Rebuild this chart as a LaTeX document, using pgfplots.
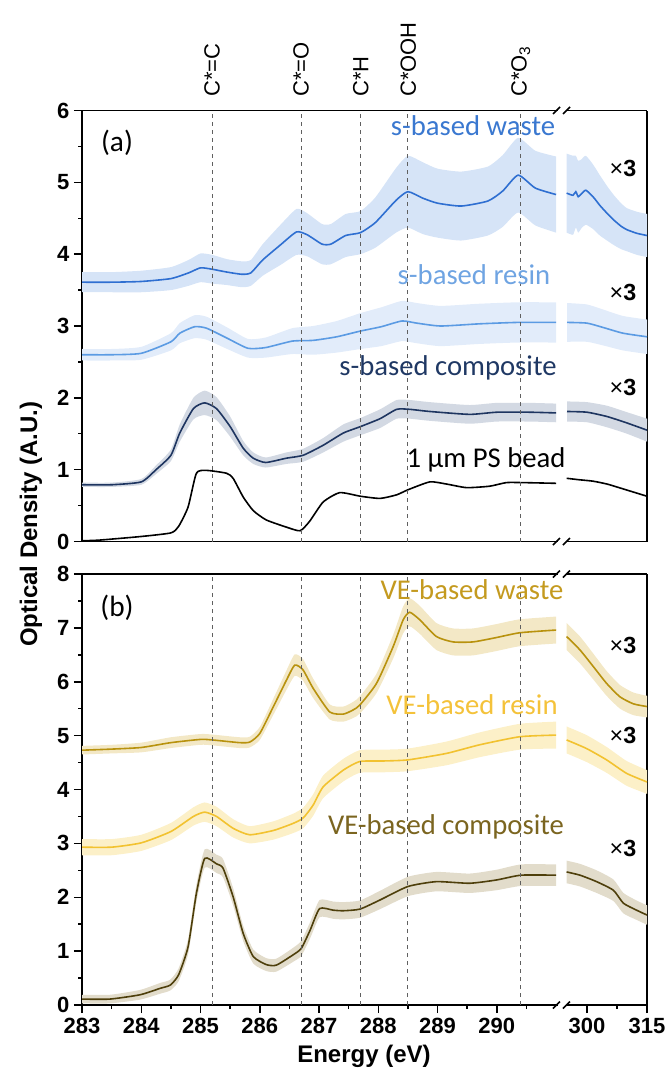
\documentclass[border=0pt]{standalone}
\usepackage{fontspec}
\setmainfont{Liberation Sans}
\newfontfamily\carl{Carlito}
\usepackage{pgfplots}
\usepackage{pgfplotstable}
\pgfplotsset{compat=1.18}
\usepgfplotslibrary{fillbetween}

\definecolor{swLine}{HTML}{2F6FD1}\definecolor{swBand}{HTML}{D6E4F7}\definecolor{swText}{HTML}{3A78D0}
\definecolor{srLine}{HTML}{5B9BE3}\definecolor{srBand}{HTML}{E2ECFA}\definecolor{srText}{HTML}{6FA4E2}
\definecolor{scLine}{HTML}{1E3560}\definecolor{scBand}{HTML}{D3D9E3}\definecolor{scText}{HTML}{1F3864}
\definecolor{vwLine}{HTML}{B8920E}\definecolor{vwBand}{HTML}{F3E8C6}\definecolor{vwText}{HTML}{C49A1F}
\definecolor{vrLine}{HTML}{F2C230}\definecolor{vrBand}{HTML}{FCF0C8}\definecolor{vrText}{HTML}{F4C23A}
\definecolor{vcLine}{HTML}{4E3F0B}\definecolor{vcBand}{HTML}{E2DCCB}\definecolor{vcText}{HTML}{7B6520}
\definecolor{dashgray}{HTML}{606060}

% s-based waste
\pgfplotstableread{
x y e
283.0 3.61 0.14
283.5 3.61 0.14
284.0 3.62 0.15
284.5 3.66 0.16
284.8 3.74 0.18
285.0 3.81 0.20
285.2 3.79 0.20
285.45 3.75 0.18
285.7 3.72 0.18
285.85 3.74 0.18
286.05 3.92 0.22
286.35 4.13 0.28
286.62 4.31 0.32
286.8 4.27 0.30
287.05 4.14 0.28
287.2 4.14 0.28
287.45 4.26 0.30
287.7 4.30 0.30
287.95 4.44 0.35
288.3 4.75 0.45
288.5 4.87 0.50
288.75 4.78 0.50
289.0 4.71 0.48
289.4 4.67 0.48
289.85 4.74 0.48
290.1 4.88 0.50
290.36 5.10 0.52
290.65 4.92 0.52
291.0 4.83 0.53
294.9 4.85 0.55
296.5 4.82 0.55
297.2 4.87 0.50
297.8 4.80 0.50
298.6 4.84 0.48
299.7 4.89 0.48
301.5 4.80 0.45
303.2 4.68 0.42
305.0 4.57 0.38
306.6 4.48 0.35
308.5 4.39 0.32
310.0 4.34 0.30
312.5 4.29 0.30
315.0 4.26 0.30
}\sw
% s-based resin
\pgfplotstableread{
x y e
283.0 2.60 0.08
283.5 2.60 0.08
284.0 2.62 0.09
284.5 2.78 0.12
284.65 2.90 0.14
284.9 2.99 0.16
285.1 2.97 0.16
285.45 2.83 0.15
285.8 2.69 0.13
286.1 2.70 0.14
286.55 2.79 0.18
286.9 2.80 0.20
287.3 2.85 0.22
287.7 2.93 0.25
288.05 2.99 0.27
288.4 3.07 0.28
288.65 3.04 0.28
289.05 3.00 0.28
289.7 3.03 0.28
290.35 3.05 0.28
291.0 3.05 0.28
295.0 3.05 0.27
300.0 3.04 0.26
304.0 2.98 0.25
309.0 2.90 0.24
315.0 2.85 0.24
}\sr
% s-based composite
\pgfplotstableread{
x y e
283.0 0.79 0.03
283.5 0.79 0.03
284.0 0.83 0.04
284.25 1.00 0.06
284.5 1.20 0.08
284.65 1.51 0.12
284.88 1.85 0.15
285.07 1.93 0.17
285.27 1.85 0.16
285.5 1.60 0.14
285.72 1.30 0.10
285.89 1.16 0.08
286.1 1.10 0.07
286.45 1.16 0.08
286.73 1.20 0.09
287.07 1.34 0.10
287.41 1.51 0.12
287.7 1.60 0.12
288.03 1.71 0.13
288.31 1.84 0.13
288.53 1.84 0.13
288.87 1.81 0.13
289.54 1.77 0.13
290.0 1.80 0.13
290.55 1.80 0.13
291.0 1.79 0.13
295.0 1.81 0.14
300.0 1.80 0.14
305.0 1.74 0.15
310.0 1.65 0.15
315.0 1.55 0.16
}\sc
% 1 um PS bead
\pgfplotstableread{
x y
283.0 0.01
283.3 0.02
284.0 0.07
284.5 0.12
284.63 0.21
284.79 0.48
284.93 0.95
285.1 0.99
285.44 0.95
285.55 0.88
285.72 0.62
285.89 0.43
286.11 0.30
286.45 0.20
286.68 0.15
286.84 0.28
287.07 0.55
287.35 0.68
287.7 0.63
288.03 0.60
288.31 0.65
288.5 0.72
288.87 0.83
289.15 0.80
289.49 0.75
289.88 0.77
290.16 0.82
290.44 0.82
291.0 0.81
294.9 0.88
298.0 0.86
301.5 0.84
305.0 0.80
308.0 0.75
311.5 0.69
315.0 0.63
}\ps
% VE-based waste
\pgfplotstableread{
x y e
283.0 4.73 0.08
283.5 4.75 0.08
284.0 4.78 0.09
284.5 4.87 0.10
285.0 4.93 0.10
285.2 4.92 0.10
285.66 4.87 0.10
285.83 4.88 0.10
286.0 5.04 0.12
286.23 5.54 0.15
286.45 6.03 0.18
286.59 6.31 0.20
286.73 6.22 0.20
286.9 5.88 0.18
287.18 5.44 0.14
287.41 5.40 0.14
287.58 5.48 0.15
287.69 5.57 0.16
287.97 5.97 0.18
288.25 6.65 0.22
288.42 7.15 0.25
288.53 7.29 0.26
288.7 7.15 0.26
288.98 6.84 0.25
289.26 6.74 0.25
289.6 6.74 0.25
289.99 6.82 0.25
290.39 6.91 0.25
291.0 6.96 0.25
294.9 6.84 0.25
298.25 6.59 0.25
301.6 6.28 0.24
304.9 5.97 0.23
308.25 5.72 0.22
311.6 5.59 0.21
315.0 5.54 0.20
}\vw
% VE-based resin
\pgfplotstableread{
x y e
283.0 2.93 0.15
283.5 2.93 0.15
284.0 3.01 0.15
284.5 3.22 0.16
284.88 3.50 0.17
285.07 3.58 0.18
285.27 3.50 0.18
285.55 3.28 0.17
285.83 3.16 0.16
286.23 3.24 0.17
286.56 3.37 0.18
286.73 3.47 0.19
286.9 3.71 0.20
287.07 4.05 0.21
287.41 4.36 0.21
287.69 4.52 0.21
288.1 4.53 0.21
288.5 4.55 0.21
289.15 4.67 0.22
289.71 4.83 0.23
290.39 4.98 0.24
291.0 5.01 0.25
294.9 4.92 0.25
299.9 4.76 0.25
304.9 4.55 0.24
309.9 4.30 0.23
315.0 4.14 0.22
}\vr
% VE-based composite
\pgfplotstableread{
x y e
283.0 0.11 0.08
283.47 0.11 0.08
283.98 0.19 0.09
284.32 0.31 0.10
284.49 0.37 0.10
284.63 0.56 0.12
284.79 1.08 0.14
284.93 2.07 0.16
285.07 2.72 0.17
285.27 2.62 0.17
285.38 2.54 0.17
285.55 2.01 0.16
285.72 1.33 0.14
285.89 0.90 0.13
286.11 0.75 0.12
286.28 0.74 0.12
286.56 0.93 0.13
286.7 1.05 0.14
286.85 1.39 0.15
287.01 1.79 0.16
287.24 1.76 0.16
287.41 1.75 0.16
287.69 1.78 0.16
288.03 1.95 0.17
288.5 2.20 0.18
288.98 2.29 0.18
289.54 2.26 0.18
289.99 2.32 0.19
290.41 2.41 0.20
291.0 2.41 0.20
294.9 2.47 0.21
298.25 2.41 0.21
302.4 2.29 0.21
306.6 2.13 0.20
309.1 1.89 0.19
312.4 1.76 0.18
315.0 1.67 0.18
}\vc

% #1 table, #2 band colour, #3 line colour, #4 domain, #5 path name
\newcommand{\bandline}[5]{%
  \addplot[draw=none, forget plot, smooth, tension=0.35, name path=#5U, restrict x to domain=#4] table[x=x, y expr=\thisrow{y}+\thisrow{e}]{#1};
  \addplot[draw=none, forget plot, smooth, tension=0.35, name path=#5L, restrict x to domain=#4] table[x=x, y expr=\thisrow{y}-\thisrow{e}]{#1};
  \addplot[fill=#2, draw=none, forget plot] fill between[of=#5U and #5L];
  \addplot[#3, line width=1.2pt, smooth, tension=0.35, restrict x to domain=#4] table[x=x, y=y]{#1};
}

\pgfplotsset{
  base/.style={
    scale only axis, height=323.25pt,
    axis line style={line width=1.1pt, black},
    tick style={line width=1.1pt, black},
    major tick length=6pt, minor tick length=3pt,
    tick align=outside,
    axis x line*=box,
    xtick pos=left,
    ticklabel style={font=\bfseries\fontsize{16.5}{19}\selectfont, black},
    /pgf/number format/assume math mode=true,
    /pgf/number format/1000 sep={},
    anchor=south west,
  },
  leftax/.style={base, width=360pt, xmin=283, xmax=291.1, axis y line*=left, ytick pos=left},
  rightax/.style={base, width=63.75pt, xmin=293.75, xmax=315, axis y line*=right},
  noy/.style={ytick=\empty, minor ytick=\empty, yticklabels={}},
  pa/.style={ymin=0, ymax=6, ytick={0,1,...,6}, minor ytick={0.5,1.5,...,5.5}},
  pb/.style={ymin=0, ymax=8, ytick={0,1,...,8}, minor ytick={0.5,1.5,...,7.5}},
  vdash/.style={dashgray, dashed, line width=0.8pt, forget plot},
}

\begin{document}
\begin{tikzpicture}
\path (0,0) rectangle (498.75pt,-808.5pt);

% ---------- panel (a), left part
\begin{axis}[leftax, pa, at={(61.5pt,-406.125pt)}, xtick=\empty]
  \bandline{\sw}{swBand}{swLine}{282:292}{aw}
  \bandline{\sr}{srBand}{srLine}{282:292}{ar}
  \bandline{\sc}{scBand}{scLine}{282:292}{ac}
  \addplot[black, line width=1.2pt, smooth, tension=0.35, restrict x to domain=282:292] table[x=x, y=y]{\ps};
  \addplot[vdash] coordinates {(285.2,0) (285.2,6)};
  \addplot[vdash] coordinates {(286.7,0) (286.7,6)};
  \addplot[vdash] coordinates {(287.7,0) (287.7,6)};
  \addplot[vdash] coordinates {(288.5,0) (288.5,6)};
  \addplot[vdash] coordinates {(290.4,0) (290.4,6)};
\end{axis}
% ---------- panel (a), right part
\begin{axis}[rightax, pa, noy, at={(421.5pt,-406.125pt)}, xtick=\empty]
  \bandline{\sw}{swBand}{swLine}{293:316}{bw}
  \bandline{\sr}{srBand}{srLine}{293:316}{br}
  \bandline{\sc}{scBand}{scLine}{293:316}{bc}
  \addplot[black, line width=1.2pt, smooth, tension=0.35, restrict x to domain=293:316] table[x=x, y=y]{\ps};
\end{axis}
% ---------- panel (b), left part
\begin{axis}[leftax, pb, at={(61.5pt,-753.75pt)}, xtick={283,284,...,290}, minor xtick={283.5,284.5,...,290.5}]
  \bandline{\vw}{vwBand}{vwLine}{282:292}{cw}
  \bandline{\vr}{vrBand}{vrLine}{282:292}{cr}
  \bandline{\vc}{vcBand}{vcLine}{282:292}{cc}
  \addplot[vdash] coordinates {(285.2,0) (285.2,8)};
  \addplot[vdash] coordinates {(286.7,0) (286.7,8)};
  \addplot[vdash] coordinates {(287.7,0) (287.7,8)};
  \addplot[vdash] coordinates {(288.5,0) (288.5,8)};
  \addplot[vdash] coordinates {(290.4,0) (290.4,8)};
\end{axis}
% ---------- panel (b), right part
\begin{axis}[rightax, pb, noy, at={(421.5pt,-753.75pt)}, xtick={300,315}, minor xtick={307.5}]
  \bandline{\vw}{vwBand}{vwLine}{293:316}{dw}
  \bandline{\vr}{vrBand}{vrLine}{293:316}{dr}
  \bandline{\vc}{vcBand}{vcLine}{293:316}{dc}
\end{axis}

\begin{scope}[x=0.75pt, y=-0.75pt]
  % axis breaks
  \foreach \yy in {110.5, 541.5, 574, 1005} {
    \fill[white] (558,\yy-2.5) rectangle (566,\yy+2.5);
    \draw[line width=1.1pt] (553,\yy+3.5) -- (560,\yy-3.5);
    \draw[line width=1.1pt] (563,\yy+3.5) -- (570,\yy-3.5);
  }
  % bond labels
  \foreach \xx/\tt in {212/{C*=C}, 301/{C*=O}, 360.7/{C*H}, 408.3/{C*OOH}, 520.7/{C*O\textsubscript{3}}} {
    \node[rotate=90, anchor=west, inner sep=0pt, font=\fontsize{16.5}{19}\selectfont] at (\xx,97) {\tt};
  }
  % panel letters
  \node[font=\carl\fontsize{22}{26}\selectfont] at (117,143) {(a)};
  \node[font=\carl\fontsize{22}{26}\selectfont] at (117,608) {(b)};
  % curve names
  \node[font=\carl\fontsize{21.5}{25}\selectfont, text=swText] at (473,126) {s-based waste};
  \node[font=\carl\fontsize{21.5}{25}\selectfont, text=srText] at (474,275) {s-based resin};
  \node[font=\carl\fontsize{21.5}{25}\selectfont, text=scText] at (448,368) {s-based composite};
  \node[font=\carl\fontsize{21.5}{25}\selectfont, text=black] at (486,460) {1 µm PS bead};
  \node[font=\carl\fontsize{21.5}{25}\selectfont, text=vwText] at (472,590) {VE-based waste};
  \node[font=\carl\fontsize{21.5}{25}\selectfont, text=vrText] at (472,705) {VE-based resin};
  \node[font=\carl\fontsize{21.5}{25}\selectfont, text=vcText] at (446,827) {VE-based composite};
  % x3 factors
  \foreach \yy in {168, 292, 387, 645, 735, 848} {
    \node[font=\fontsize{17.5}{20}\selectfont] at (623,\yy) {×\textbf{3}};
  }
  % axis titles
  \node[rotate=90, font=\bfseries\fontsize{18}{21}\selectfont] at (31,524) {Optical Density (A.U.)};
  \node[font=\bfseries\fontsize{18}{21}\selectfont] at (364,1056) {Energy (eV)};
\end{scope}
\end{tikzpicture}
\end{document}
